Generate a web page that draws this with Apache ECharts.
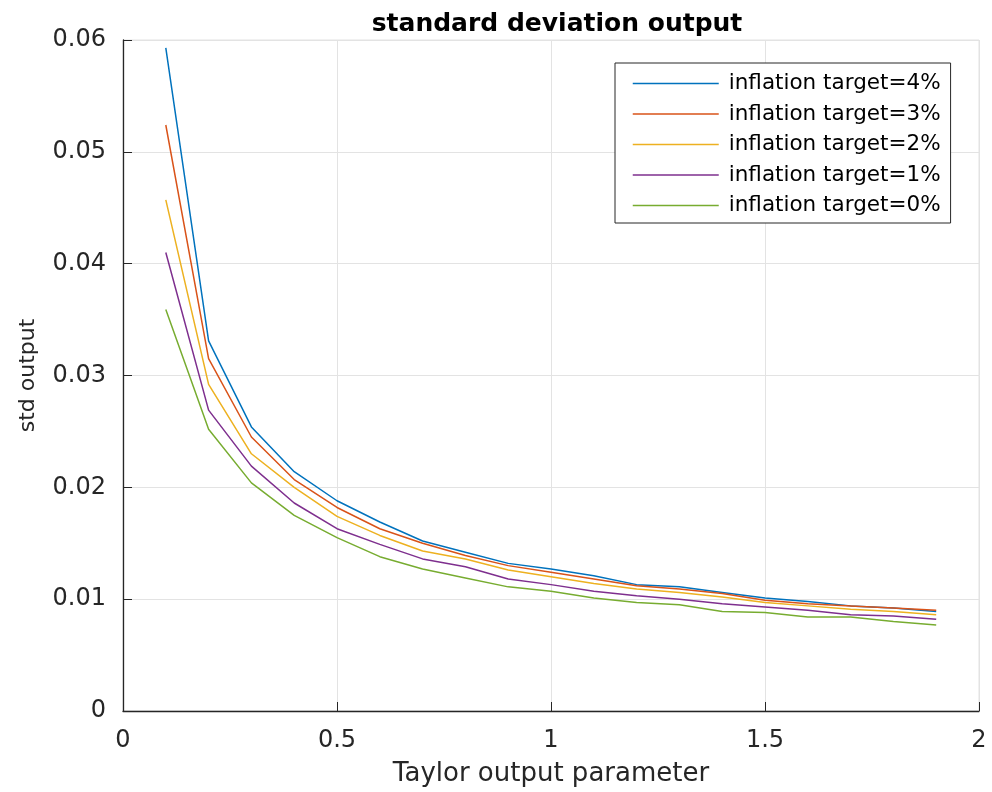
<!DOCTYPE html>
<html>
<head>
<meta charset="utf-8">
<script src="https://cdn.jsdelivr.net/npm/echarts@6/dist/echarts.min.js"></script>
<style>html,body{margin:0;padding:0;background:#fff;}#c{width:992px;height:792px;}</style>
</head>
<body>
<div id="c"></div>
<script>
const xValues = [0.1,0.2,0.3,0.4,0.5,0.6,0.7,0.8,0.9,1.0,1.1,1.2,1.3,1.4,1.5,1.6,1.7,1.8,1.9];
const infl4 = [0.0593,0.0331,0.0254,0.0214,0.0188,0.0169,0.0152,0.0142,0.0132,0.0127,0.0121,0.0113,0.0111,0.0106,0.0101,0.0098,0.0094,0.0092,0.0089];
const infl3 = [0.0524,0.0315,0.0245,0.0207,0.0182,0.0163,0.0150,0.0139,0.0130,0.0124,0.0118,0.0112,0.0109,0.0105,0.0099,0.0096,0.0094,0.0092,0.0090];
const infl2 = [0.0457,0.0292,0.0230,0.0200,0.0174,0.0157,0.0143,0.0136,0.0126,0.0120,0.0114,0.0109,0.0106,0.0102,0.0097,0.0094,0.0091,0.0089,0.0086];
const infl1 = [0.0410,0.0269,0.0219,0.0186,0.0163,0.0149,0.0136,0.0129,0.0118,0.0113,0.0107,0.0103,0.0100,0.0096,0.0093,0.0090,0.0086,0.0085,0.0082];
const infl0 = [0.0359,0.0252,0.0204,0.0175,0.0155,0.0138,0.0127,0.0119,0.0111,0.0107,0.0101,0.0097,0.0095,0.0089,0.0088,0.0084,0.0084,0.0080,0.0077];
const seriesNames = ['inflation target=4%','inflation target=3%','inflation target=2%','inflation target=1%','inflation target=0%'];
const xTickLabels = ['0','0.5','1','1.5','2'];
const yTickLabels = ['0','0.01','0.02','0.03','0.04','0.05','0.06'];
const colors = ['#0072BD','#D95319','#EDB120','#7E2F8E','#77AC30'];
const allData = [infl4, infl3, infl2, infl1, infl0];

const FONT = 'DejaVu Sans';
const chart = echarts.init(document.getElementById('c'), null, {renderer:'canvas'});
const option = {
  animation: false,
  backgroundColor: '#fff',
  title: {
    text: 'standard deviation output',
    left: 552, top: 7, textAlign: 'center',
    textStyle: {fontFamily: FONT, fontSize: 25, fontWeight: 'bold', color: '#000'}
  },
  grid: {left: 123, right: 13, top: 40, bottom: 80, show: true, borderColor: '#e3e3e3', borderWidth: 1},
  legend: {
    orient: 'vertical', left: 615, top: 63,
    padding: [9.5, 10, 6.5, 17], itemGap: 8.5, itemWidth: 86, itemHeight: 14,
    borderColor: '#262626', borderWidth: 1, backgroundColor: '#fff',
    itemStyle: {opacity: 0},
    lineStyle: {width: 1.5},
    textStyle: {fontFamily: FONT, fontSize: 21.5, lineHeight: 21, color: '#000', padding: [0,0,0,5]},
    data: seriesNames
  },
  xAxis: {
    type: 'value', min: 0, max: 2, interval: 0.5,
    name: 'Taylor output parameter', nameLocation: 'middle', nameGap: 50,
    nameTextStyle: {fontFamily: FONT, fontSize: 26, color: '#262626'},
    axisLine: {show: true, lineStyle: {color: '#262626', width: 1.3}},
    axisTick: {show: true, inside: true, length: 9, lineStyle: {color: '#262626'}},
    axisLabel: {fontFamily: FONT, fontSize: 24, color: '#262626', margin: 18,
      formatter: (v) => xTickLabels[Math.round(v / 0.5)]},
    splitLine: {show: true, lineStyle: {color: '#e3e3e3', width: 1}}
  },
  yAxis: {
    type: 'value', min: 0, max: 0.06, interval: 0.01,
    name: 'std output', nameLocation: 'middle', nameGap: 84, nameRotate: 90,
    nameTextStyle: {fontFamily: FONT, fontSize: 22, color: '#262626'},
    axisLine: {show: true, lineStyle: {color: '#262626', width: 1.3}},
    axisTick: {show: true, inside: true, length: 9, lineStyle: {color: '#262626'}},
    axisLabel: {fontFamily: FONT, fontSize: 24, color: '#262626', margin: 17,
      formatter: (v) => yTickLabels[Math.round(v / 0.01)]},
    splitLine: {show: true, lineStyle: {color: '#e3e3e3', width: 1}}
  },
  series: seriesNames.map((n, i) => ({
    name: n, type: 'line', symbol: 'none', showSymbol: false,
    color: colors[i],
    lineStyle: {width: 1.5, color: colors[i]},
    data: xValues.map((x, j) => [x, allData[i][j]])
  }))
};
chart.setOption(option);
</script>
</body>
</html>
